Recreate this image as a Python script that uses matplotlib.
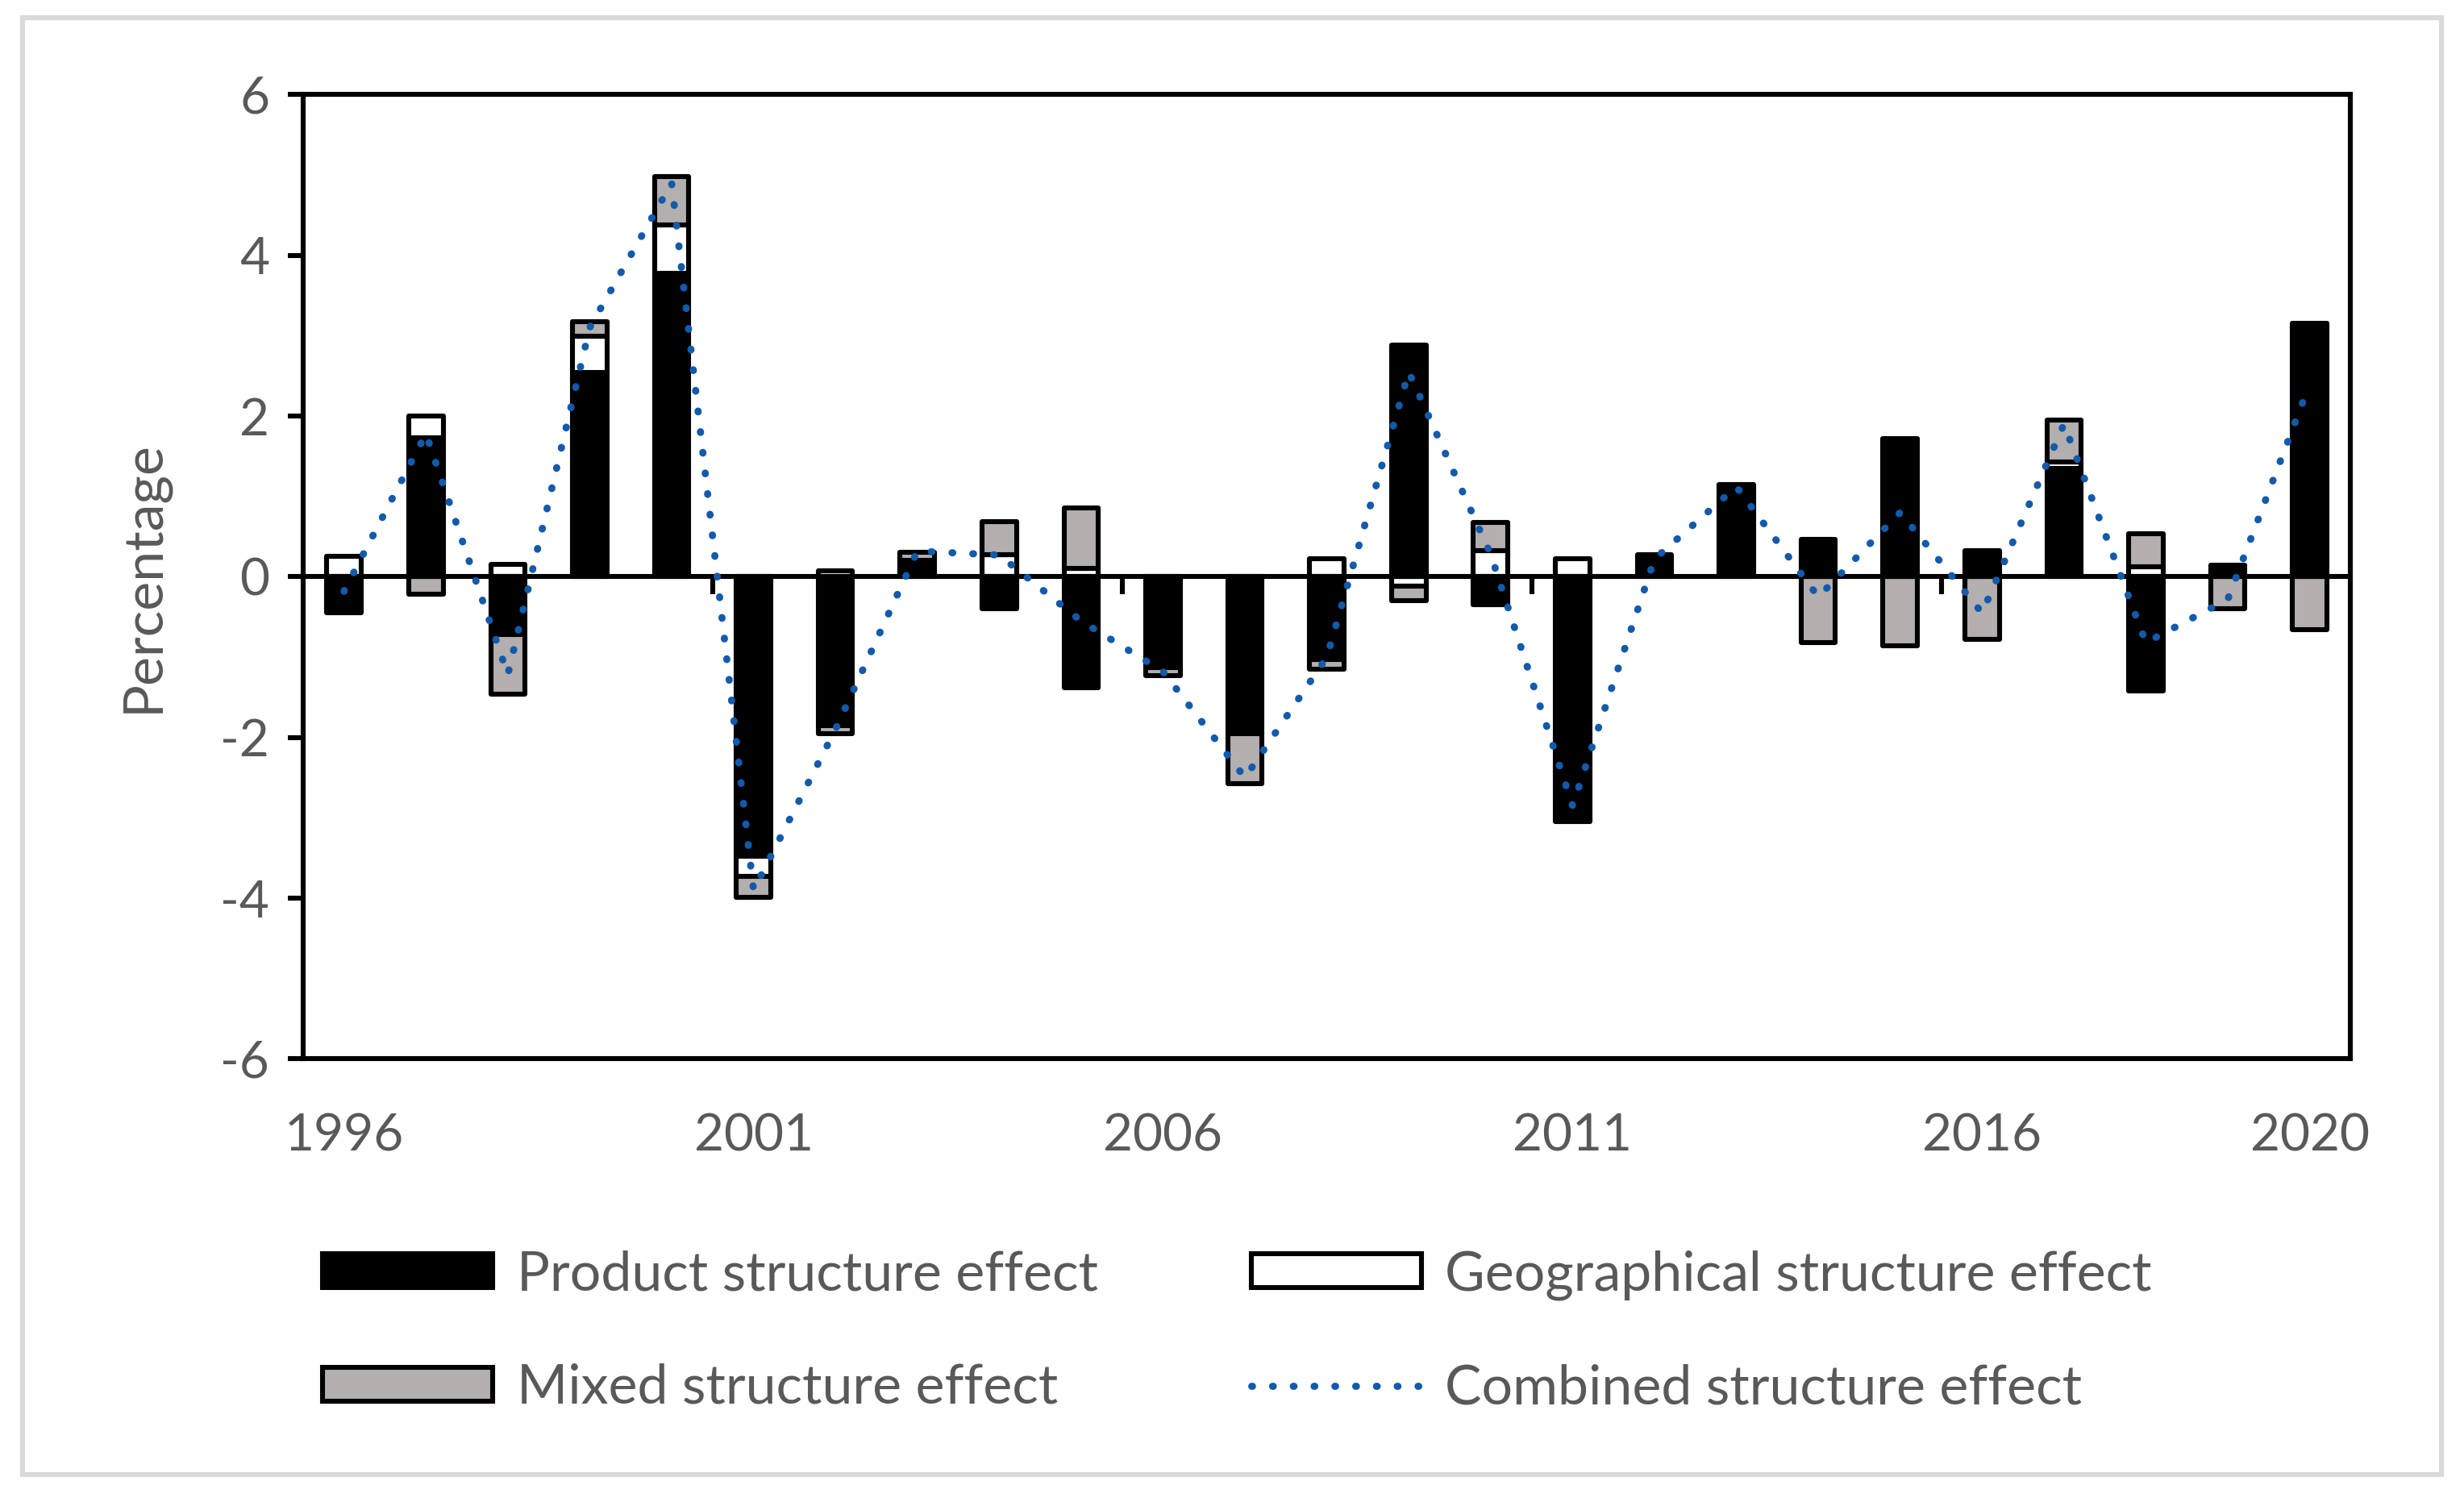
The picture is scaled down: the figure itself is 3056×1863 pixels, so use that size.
import numpy as np
import matplotlib.pyplot as plt
from matplotlib.patches import Rectangle, Patch
from matplotlib.lines import Line2D

years = list(range(1996, 2021))
label_years = [1996, 2001, 2006, 2011, 2016, 2020]

# stacked components (percentage points)
product = [-0.45, 1.73, -0.72, 2.54, 3.78, -3.48, -1.85, 0.15, -0.40, -1.38,
           -1.10, -1.90, -1.03, 2.88, -0.35, -3.05, 0.27, 1.15, 0.47, 1.72,
           0.32, 1.35, -1.42, 0.14, 3.15]
geo = [0.25, 0.27, 0.15, 0.45, 0.60, -0.25, 0.07, 0.05, 0.27, 0.10,
       -0.03, -0.05, 0.22, -0.12, 0.33, 0.22, 0.0, 0.0, 0.0, 0.0,
       0.0, 0.08, 0.12, 0.0, 0.0]
mixed = [0.0, -0.22, -0.74, 0.18, 0.60, -0.26, -0.10, 0.10, 0.42, 0.76,
         -0.10, -0.62, -0.12, -0.18, 0.35, 0.0, 0.0, 0.0, -0.82, -0.86,
         -0.78, 0.52, 0.42, -0.40, -0.66]
combined = [-0.18, 1.78, -1.22, 3.10, 4.90, -3.90, -1.90, 0.32, 0.27, -0.55,
            -1.18, -2.50, -1.00, 2.55, 0.28, -2.85, 0.22, 1.12, -0.25, 0.80,
            -0.45, 1.90, -0.82, -0.28, 2.40]

plt.rcParams.update({"font.family": ["Lato", "DejaVu Sans"], "font.size": 23,
                     "axes.unicode_minus": False})

TXT = "#595959"
GREY = "#b3afaf"
BLUE = "#135aaa"
LW = 2.2
DOTS = (0, (0.1, 2.8))

fig = plt.figure(figsize=(15.28, 9.315), dpi=200)
ax = fig.add_axes([0.123, 0.295, 0.831, 0.642])

x = np.arange(len(years))
pos = np.zeros(len(years))
neg = np.zeros(len(years))
for vals, fc in ((product, "black"), (geo, "white"), (mixed, GREY)):
    v = np.asarray(vals, float)
    base = np.where(v >= 0, pos, neg)
    m = v != 0
    ax.bar(x[m], v[m], 0.42, bottom=base[m], color=fc, edgecolor="black",
           linewidth=LW, joinstyle="round", zorder=2)
    pos += np.clip(v, 0, None)
    neg += np.clip(v, None, 0)

ax.plot(x, combined, color=BLUE, lw=3.2, ls=DOTS, dash_capstyle="round", zorder=4)

# category axis at zero with a tick every 5 years
ax.axhline(0, color="black", lw=LW, zorder=3)
ax.vlines(x[4:-1:5] + 0.5, -0.22, 0, color="black", lw=LW, zorder=3)

ax.set_xlim(-0.5, len(years) - 0.5)
ax.set_ylim(-6, 6)
ax.set_yticks(range(-6, 7, 2))
ax.set_xticks([years.index(y) for y in label_years])
ax.set_xticklabels([str(y) for y in label_years])
ax.tick_params(axis="y", direction="out", length=7, width=LW, color="black",
               labelcolor=TXT, pad=8)
ax.tick_params(axis="x", length=0, labelcolor=TXT, pad=24)
for s in ax.spines.values():
    s.set_linewidth(LW)
    s.set_color("black")

ax.set_ylabel("Percentage", color=TXT, fontsize=24.5)
ax.yaxis.set_label_coords(-0.066, 0.5)

handles = [
    Patch(facecolor="black", edgecolor="black", linewidth=LW),
    Patch(facecolor=GREY, edgecolor="black", linewidth=LW),
    Patch(facecolor="white", edgecolor="black", linewidth=LW),
    Line2D([], [], color=BLUE, lw=3.2, ls=DOTS, dash_capstyle="round"),
]
labels = ["Product structure effect", "Mixed structure effect",
          "Geographical structure effect", "Combined structure effect"]
fig.legend(handles, labels, ncol=2, loc="upper left", bbox_to_anchor=(0.131, 0.168),
           frameon=False, fontsize=24.5, handlelength=3.1, handleheight=0.56,
           handletextpad=0.43, columnspacing=2.8, labelspacing=1.16,
           labelcolor=TXT, borderpad=0, borderaxespad=0)

fig.add_artist(Rectangle((0.009, 0.018), 0.982, 0.970, transform=fig.transFigure,
                         fill=False, edgecolor="#d9d9d9", linewidth=2.2))

fig.savefig("out.png", dpi=200)
